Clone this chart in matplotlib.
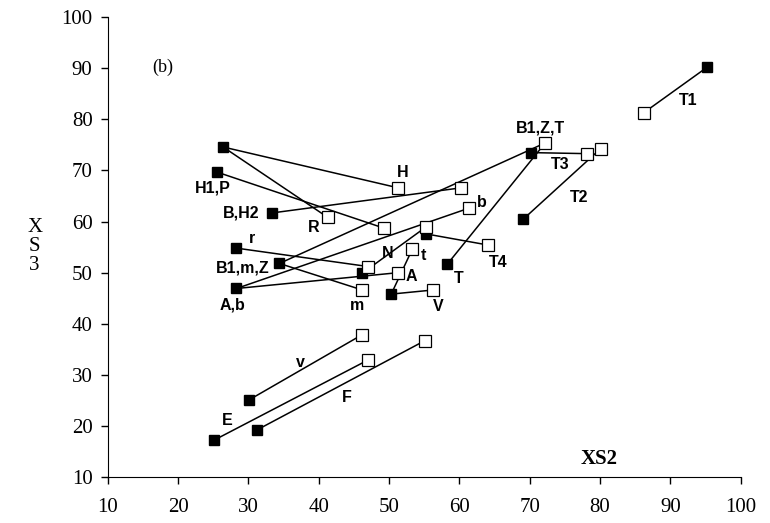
import matplotlib
matplotlib.use("Agg")
import matplotlib.pyplot as plt

# filled squares (one condition) and open squares (the other)
filled_x = [95.2, 69.1, 70.2, 58.3, 26.4, 25.5, 33.4, 28.3, 34.4, 28.3, 46.2, 50.3, 55.2, 30.1, 25.1, 31.2]
filled_y = [90.2, 60.5, 73.5, 51.7, 74.6, 69.7, 61.7, 54.8, 51.8, 46.9, 49.9, 45.8, 57.6, 25.1, 17.2, 19.2]

open_x = [86.2, 80.1, 78.1, 72.2, 51.3, 41.3, 49.3, 60.2, 61.3, 55.2, 47.0, 46.2, 51.3, 53.3, 56.2, 64.1, 46.1, 47.0, 55.1]
open_y = [81.3, 74.3, 73.3, 75.4, 66.6, 60.8, 58.7, 66.6, 62.6, 58.9, 51.2, 46.6, 50.0, 54.6, 46.6, 55.4, 37.8, 32.9, 36.7]

# each link joins filled point i to open point j
links = [(0, 0), (1, 1), (2, 2), (3, 3), (8, 3), (4, 4), (4, 5), (5, 6), (6, 7),
         (9, 8), (9, 12), (10, 9), (7, 10), (8, 11), (11, 13), (11, 14), (12, 15),
         (13, 16), (14, 17), (15, 18)]

# labels: (text, 'f' or 'o', point index)
labels = [("T1", "f", 0), ("T2", "f", 1), ("T3", "f", 2), ("B1,Z,T", "o", 3),
          ("T", "f", 3), ("T4", "o", 15), ("H", "o", 4), ("R", "o", 5),
          ("H1,P", "f", 5), ("B,H2", "f", 6), ("r", "f", 7), ("B1,m,Z", "f", 8),
          ("A,b", "f", 9), ("m", "o", 11), ("N", "f", 10), ("A", "o", 12),
          ("t", "o", 13), ("V", "o", 14), ("b", "o", 8), ("v", "f", 13),
          ("E", "f", 14), ("F", "f", 15)]

# label offsets in pixels (dx right, dy up)
label_offsets = [(-19, -33), (56, 22), (29, -12), (-5, 15),
                 (11, -15), (10, -17), (4, 15), (-14, -10),
                 (-4, -16), (-31, 0), (16, 10), (-37, -5),
                 (-4, -17), (-5, -15), (25, 20), (13, -4),
                 (11, -6), (5, -16), (13, 6), (51, 37),
                 (13, 20), (90, 32)]

x_ticks = [10, 20, 30, 40, 50, 60, 70, 80, 90, 100]
y_ticks = [10, 20, 30, 40, 50, 60, 70, 80, 90, 100]

fig = plt.figure(figsize=(7.7, 5.23), dpi=100)
ax = fig.add_axes([0.140, 0.088, 0.822, 0.879])

for i, j in links:
    ax.plot([filled_x[i], open_x[j]], [filled_y[i], open_y[j]],
            color='black', lw=1.1, zorder=1)

ax.plot(filled_x, filled_y, ls='none', marker='s', ms=7,
        mfc='black', mec='black', zorder=3)
ax.plot(open_x, open_y, ls='none', marker='s', ms=8,
        mfc='white', mec='black', mew=0.9, zorder=4)

for (txt, kind, idx), (dx, dy) in zip(labels, label_offsets):
    if kind == "f":
        px, py = filled_x[idx], filled_y[idx]
    else:
        px, py = open_x[idx], open_y[idx]
    ax.annotate(txt, (px, py), xytext=(dx, dy), textcoords='offset pixels',
                ha='center', va='center', fontsize=11.5, fontweight='bold',
                family='Liberation Sans', zorder=5)

ax.set_xlim(10, 100)
ax.set_ylim(10, 100)
ax.set_xticks(x_ticks)
ax.set_yticks(y_ticks)
ax.spines['top'].set_visible(False)
ax.spines['right'].set_visible(False)
ax.tick_params(direction='out', length=5, width=1, labelsize=15)
ax.tick_params(axis='x', pad=10)
ax.tick_params(axis='y', pad=6)
for lab in ax.get_xticklabels() + ax.get_yticklabels():
    lab.set_family('Liberation Serif')

ax.text(0.071, 0.89, "(b)", transform=ax.transAxes, fontsize=13,
        family='Liberation Serif', ha='left', va='center')
ax.text(0.777, 0.04, "XS2", transform=ax.transAxes, fontsize=15,
        family='Liberation Serif', fontweight='bold', ha='center', va='center')
fig.text(0.045, 0.528, "X\nS\n3", fontsize=15, family='Liberation Serif',
         ha='center', va='center', linespacing=1.0)

fig.savefig("out.png", dpi=100)
